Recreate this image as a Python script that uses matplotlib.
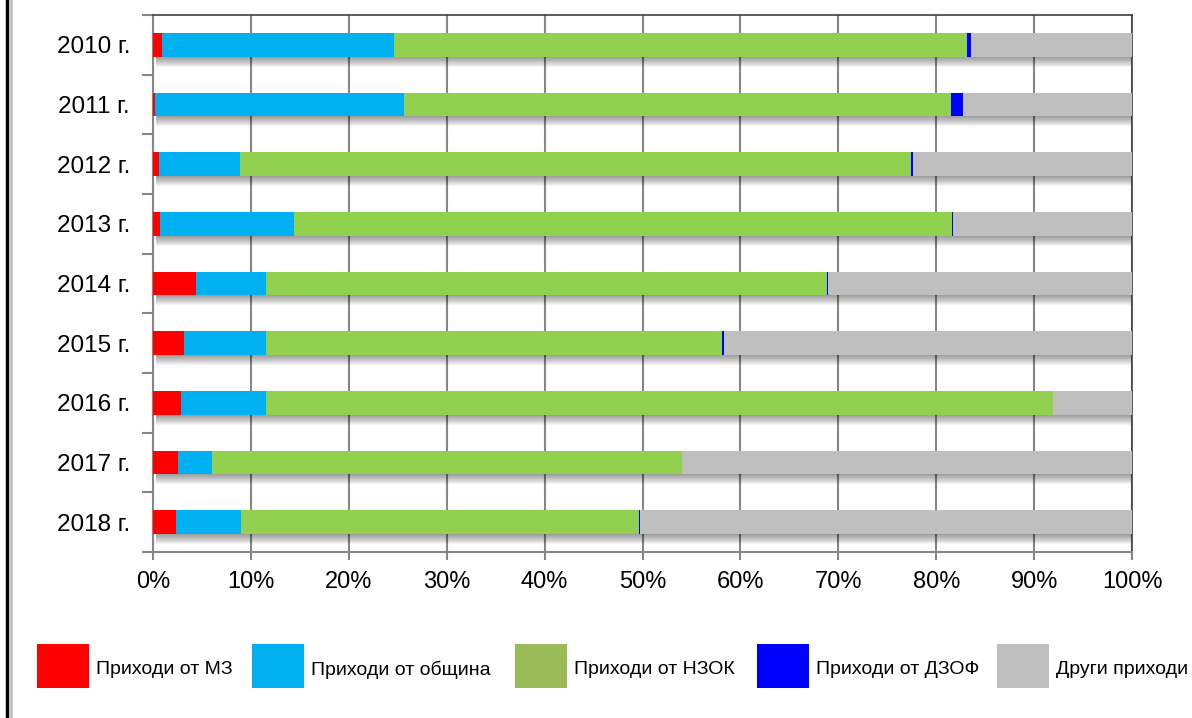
import matplotlib
matplotlib.use('Agg')
import matplotlib.pyplot as plt
from matplotlib.patches import Rectangle
from matplotlib.lines import Line2D
from matplotlib.ticker import FixedLocator, PercentFormatter
import numpy as np

plt.rcParams['font.family'] = ['Liberation Sans', 'DejaVu Sans']

# Data (share of income, %)
years = ['2010 г.', '2011 г.', '2012 г.', '2013 г.', '2014 г.',
         '2015 г.', '2016 г.', '2017 г.', '2018 г.']
mz = [0.9, 0.2, 0.6, 0.7, 4.4, 3.2, 2.9, 2.6, 2.3]
obshtina = [23.7, 25.4, 8.3, 13.7, 7.1, 8.3, 8.6, 3.4, 6.7]
nzok = [58.5, 55.9, 68.5, 67.2, 57.3, 46.6, 80.4, 48.0, 40.6]
dzof = [0.5, 1.2, 0.25, 0.15, 0.15, 0.2, 0.05, 0.0, 0.15]
drugi = [16.4, 17.3, 22.35, 18.25, 31.05, 41.7, 8.05, 46.0, 50.25]

series = [mz, obshtina, nzok, dzof, drugi]
names = ['Приходи от МЗ', 'Приходи от община', 'Приходи от НЗОК',
         'Приходи от ДЗОФ', 'Други приходи']
bar_colors = ['#FF0000', '#00B0F0', '#92D050', '#0000FF', '#BFBFBF']
legend_colors = ['#FF0000', '#00B0F0', '#9BBB59', '#0000FF', '#BFBFBF']

W, H = 1192, 718
fig = plt.figure(figsize=(W / 100, H / 100), dpi=100)
ax = fig.add_axes([153 / W, 1 - 552 / H, 979 / W, 537 / H])

y = np.arange(len(years))
bar_h = 0.40
px = 9 / 537  # one pixel in row units

# soft drop shadow under each bar
totals = np.sum(series, axis=0)
for k in range(1, 11):
    ax.barh(y + k * px, totals, left=0.3, height=bar_h, color='black',
            alpha=0.045, linewidth=0, zorder=1)

left = np.zeros(len(years))
for vals, col in zip(series, bar_colors):
    ax.barh(y, vals, left=left, height=bar_h, color=col, linewidth=0, zorder=3)
    left += np.array(vals)

ax.set_xlim(0, 100)
ax.set_ylim(len(years) - 0.5, -0.5)
ax.xaxis.set_major_locator(FixedLocator(np.arange(0, 101, 10)))
ax.xaxis.set_major_formatter(PercentFormatter(decimals=0))
ax.set_yticks(y)
ax.set_yticklabels(years)
ax.yaxis.set_minor_locator(FixedLocator(np.arange(-0.5, len(years), 1)))

ax.grid(axis='x', color='#868686', linewidth=1.5, zorder=0)
ax.set_axisbelow(True)

ax.tick_params(axis='y', which='major', length=0, pad=16.5, labelsize=17.5)
ax.tick_params(axis='y', which='minor', length=8, width=1.5, color='#868686')
ax.tick_params(axis='x', which='major', length=6, width=1.5, color='#868686',
               pad=8, labelsize=17)

for side in ['left', 'bottom']:
    ax.spines[side].set_color('#868686')
    ax.spines[side].set_linewidth(1.5)
for side in ['top', 'right']:
    ax.spines[side].set_color('#404040')
    ax.spines[side].set_linewidth(1.2)

# legend, laid out like the original (square + text per entry)
box_x = [37, 252, 515, 757, 997]
for bx, col, name in zip(box_x, legend_colors, names):
    fig.add_artist(Rectangle((bx / W, 1 - 688 / H), 52 / W, 44 / H,
                             transform=fig.transFigure, facecolor=col,
                             edgecolor='none'))
    fig.text((bx + 59) / W, 1 - 670 / H, name, fontsize=14, va='center',
             ha='left')

# left frame edge
fig.add_artist(Line2D([7.5 / W, 7.5 / W], [0, 1], transform=fig.transFigure,
                      color='black', linewidth=2.5))
fig.add_artist(Line2D([10.5 / W, 10.5 / W], [0, 1], transform=fig.transFigure,
                      color='#C0C0C0', linewidth=2))

fig.savefig('out.png', dpi=100)
